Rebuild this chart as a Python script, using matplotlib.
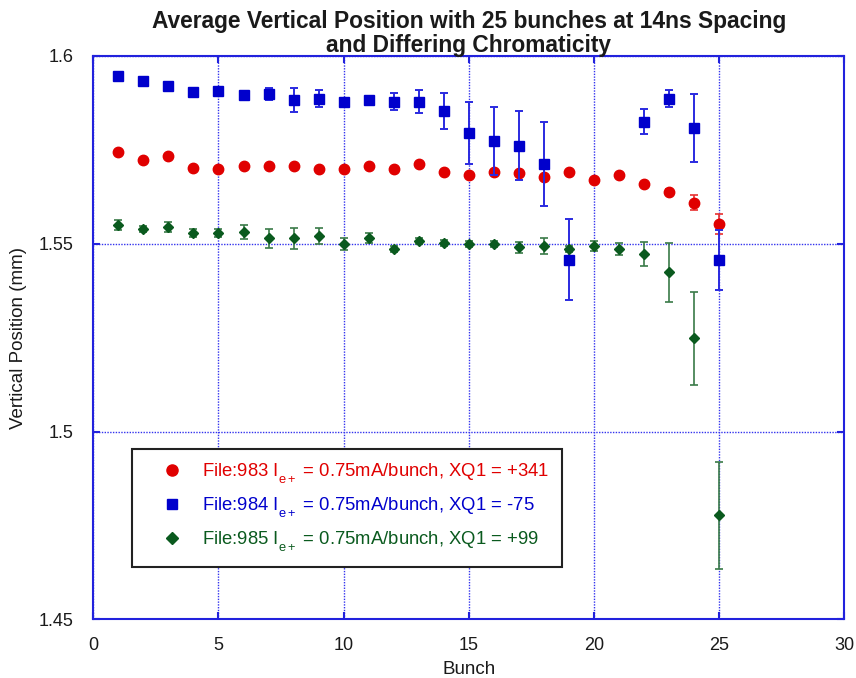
import matplotlib
matplotlib.use("Agg")
import matplotlib.pyplot as plt
from matplotlib.lines import Line2D
import matplotlib._mathtext as _mt

plt.rcParams['font.family'] = ['Liberation Sans', 'DejaVu Sans']
plt.rcParams['mathtext.fontset'] = 'custom'
plt.rcParams['mathtext.rm'] = 'Liberation Sans'
plt.rcParams['mathtext.it'] = 'Liberation Sans'

# Drop subscripts a little further below the baseline
try:
    _mt.FontConstantsBase.sub1 = 0.75
    _mt.FontConstantsBase.subdrop = 0.75
except Exception:
    pass

# Bunch numbers
bunch = list(range(1, 26))

# File 983, XQ1 = +341
red_y = [1.5745, 1.5722, 1.5735, 1.5703, 1.5699, 1.5706, 1.5706, 1.5706, 1.5699, 1.5699,
         1.5706, 1.5699, 1.5712, 1.5692, 1.5682, 1.5692, 1.5689, 1.5678, 1.5690, 1.5671,
         1.5684, 1.5660, 1.5639, 1.5609, 1.5552]
red_err = [0.0005, 0.0005, 0.0005, 0.0005, 0.0005, 0.0005, 0.0005, 0.0005, 0.0005, 0.0005,
           0.0005, 0.0005, 0.0005, 0.0005, 0.0005, 0.0005, 0.0005, 0.0005, 0.0005, 0.0005,
           0.0005, 0.0005, 0.0008, 0.0020, 0.0027]

# File 984, XQ1 = -75 (no data for bunches 20 and 21)
blue_x = [1, 2, 3, 4, 5, 6, 7, 8, 9, 10, 11, 12, 13, 14, 15, 16, 17, 18, 19, 22, 23, 24, 25]
blue_y = [1.5947, 1.5933, 1.5921, 1.5905, 1.5907, 1.5895, 1.5899, 1.5883, 1.5886, 1.5878,
          1.5884, 1.5878, 1.5878, 1.5853, 1.5795, 1.5774, 1.5761, 1.5712, 1.5457, 1.5825,
          1.5886, 1.5808, 1.5457]
blue_err = [0.0005, 0.0005, 0.0005, 0.0008, 0.0008, 0.0005, 0.0015, 0.0032, 0.0023, 0.0010,
            0.0010, 0.0023, 0.0031, 0.0048, 0.0082, 0.0090, 0.0092, 0.0111, 0.0108, 0.0033,
            0.0023, 0.0090, 0.0080]

# File 985, XQ1 = +99
green_y = [1.5549, 1.5540, 1.5544, 1.5528, 1.5528, 1.5531, 1.5515, 1.5515, 1.5520, 1.5500,
           1.5515, 1.5487, 1.5507, 1.5502, 1.5500, 1.5500, 1.5491, 1.5494, 1.5487, 1.5495,
           1.5487, 1.5473, 1.5424, 1.5248, 1.4777]
green_err = [0.0013, 0.0008, 0.0013, 0.0010, 0.0010, 0.0019, 0.0025, 0.0028, 0.0021, 0.0016,
             0.0013, 0.0008, 0.0008, 0.0008, 0.0008, 0.0008, 0.0015, 0.0021, 0.0008, 0.0013,
             0.0016, 0.0031, 0.0079, 0.0123, 0.0142]

labels = [r"File:983 I$_{\mathrm{e+}}$ = 0.75mA/bunch, XQ1 = +341",
          r"File:984 I$_{\mathrm{e+}}$ = 0.75mA/bunch, XQ1 = -75",
          r"File:985 I$_{\mathrm{e+}}$ = 0.75mA/bunch, XQ1 = +99"]

title_lines = ["Average Vertical Position with 25 bunches at 14ns Spacing",
               "and Differing Chromaticity"]

red = '#e00000'
blue = '#0000cc'
green = '#0a5a1e'
frame_blue = '#2222dd'
text_col = '#1a1a1a'

W, H = 856, 678
fig = plt.figure(figsize=(W / 100, H / 100), dpi=100)
ax = fig.add_axes([93.3 / W, 1 - 619.3 / H, 751.0 / W, 563.3 / H])

ax.errorbar(bunch, red_y, yerr=red_err, fmt='o', color=red, ecolor='#e83030',
            markersize=7.5, capsize=3.2, elinewidth=1.2, capthick=1.2, zorder=3)
ax.errorbar(blue_x, blue_y, yerr=blue_err, fmt='s', color=blue, ecolor='#2a2ae0',
            markersize=7.5, capsize=3.2, elinewidth=1.4, capthick=1.4, zorder=4)
ax.errorbar(bunch, green_y, yerr=green_err, fmt='D', color=green, ecolor='#3a7a48',
            markersize=5.5, capsize=3.2, elinewidth=1.2, capthick=1.2, zorder=5)

ax.set_xlim(0, 30)
ax.set_ylim(1.45, 1.6)
ax.set_xticks([0, 5, 10, 15, 20, 25, 30])
ax.set_yticks([1.45, 1.5, 1.55, 1.6])
ax.set_yticklabels(['1.45', '1.5', '1.55', '1.6'])

ax.grid(True, color='#3333ee', linestyle=(0, (1, 1)), linewidth=1.0)
ax.set_axisbelow(True)
for s in ax.spines.values():
    s.set_color(frame_blue)
    s.set_linewidth(1.5)
ax.tick_params(direction='in', length=5, width=1.5, color=frame_blue,
               top=True, right=True, labelsize=13, labelcolor=text_col)
ax.tick_params(axis='x', pad=13)
ax.tick_params(axis='y', pad=14.5)

ax.set_xlabel('Bunch', fontsize=13.5, color=text_col, labelpad=4.5)
ax.set_ylabel('Vertical Position (mm)', fontsize=13.5, color=text_col, labelpad=8)

xc = (93.3 + 751.0 / 2) / W
fig.text(xc, 1 - 28 / H, title_lines[0], ha='center', va='baseline',
         fontsize=16.4, fontweight='bold', color=text_col)
fig.text(xc, 1 - 52 / H, title_lines[1], ha='center', va='baseline',
         fontsize=16.4, fontweight='bold', color=text_col)

handles = [Line2D([], [], linestyle='none', marker='o', color=red, markersize=8),
           Line2D([], [], linestyle='none', marker='s', color=blue, markersize=7.5),
           Line2D([], [], linestyle='none', marker='D', color=green, markersize=6)]
leg = ax.legend(handles, labels, loc='upper left', bbox_to_anchor=(0.0515, 0.3023),
                fontsize=13.3, frameon=True, fancybox=False, edgecolor='#222222',
                framealpha=1, borderpad=0.7, handlelength=2.9, handletextpad=0.2,
                labelspacing=0.5, borderaxespad=0)
leg.get_frame().set_linewidth(1.5)
for txt, c in zip(leg.get_texts(), [red, blue, green]):
    txt.set_color(c)

fig.savefig('out.png', dpi=100)
